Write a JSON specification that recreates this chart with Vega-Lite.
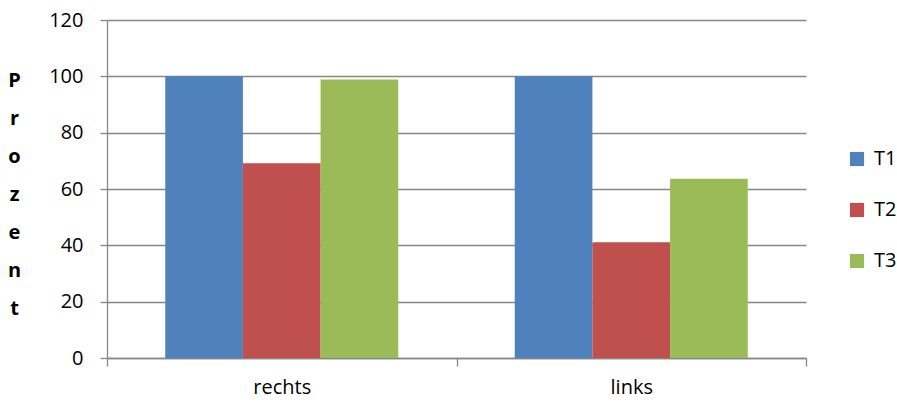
{
  "$schema": "https://vega.github.io/schema/vega-lite/v6.json",
  "autosize": {"type": "none"},
  "padding": {"left": 107, "top": 20, "right": 91, "bottom": 45},
  "width": 699,
  "height": 338,
  "background": "white",
  "data": {
    "values": [
      {"seite": "rechts", "serie": "T1", "wert": 100},
      {"seite": "rechts", "serie": "T2", "wert": 69.1},
      {"seite": "rechts", "serie": "T3", "wert": 98.9},
      {"seite": "links", "serie": "T1", "wert": 100},
      {"seite": "links", "serie": "T2", "wert": 41.1},
      {"seite": "links", "serie": "T3", "wert": 63.6}
    ]
  },
  "config": {
    "view": {"stroke": null},
    "font": "Open Sans"
  },
  "mark": {"type": "bar"},
  "encoding": {
    "x": {
      "field": "seite",
      "type": "nominal",
      "sort": ["rechts", "links"],
      "scale": {"paddingInner": 0, "paddingOuter": 0},
      "axis": {
        "title": null,
        "labelAngle": 0,
        "labelFontSize": 20,
        "labelColor": "#000000",
        "labelPadding": 11,
        "tickBand": "extent",
        "tickColor": "#868686",
        "tickSize": 8,
        "tickWidth": 1.3,
        "domainColor": "#868686",
        "domainWidth": 1.3,
        "grid": false
      }
    },
    "xOffset": {
      "field": "serie",
      "type": "nominal",
      "scale": {"paddingInner": 0, "paddingOuter": 0.75}
    },
    "y": {
      "field": "wert",
      "type": "quantitative",
      "scale": {"domain": [0, 120], "nice": false},
      "axis": {
        "values": [0, 20, 40, 60, 80, 100, 120],
        "title": ["P", "r", "o", "z", "e", "n", "t"],
        "titleAngle": 0,
        "titleFontWeight": "bold",
        "titleFontSize": 20,
        "titleLineHeight": 38,
        "titleAlign": "center",
        "titleBaseline": "middle",
        "titleX": -93,
        "titleY": 60,
        "titleColor": "#000000",
        "labelFontSize": 20,
        "labelColor": "#000000",
        "labelPadding": 17,
        "tickColor": "#868686",
        "tickSize": 7,
        "tickWidth": 1.3,
        "domainColor": "#868686",
        "domainWidth": 1.3,
        "gridColor": "#868686",
        "gridWidth": 1.3
      }
    },
    "color": {
      "field": "serie",
      "type": "nominal",
      "scale": {"domain": ["T1", "T2", "T3"], "range": ["#4F81BD", "#C0504D", "#9BBB59"]},
      "legend": {
        "title": null,
        "orient": "none",
        "legendX": 740,
        "legendY": 129,
        "symbolType": "square",
        "symbolSize": 200,
        "symbolStrokeWidth": 0,
        "labelFontSize": 20,
        "labelColor": "#000000",
        "labelOffset": 7,
        "rowPadding": 31
      }
    }
  }
}
